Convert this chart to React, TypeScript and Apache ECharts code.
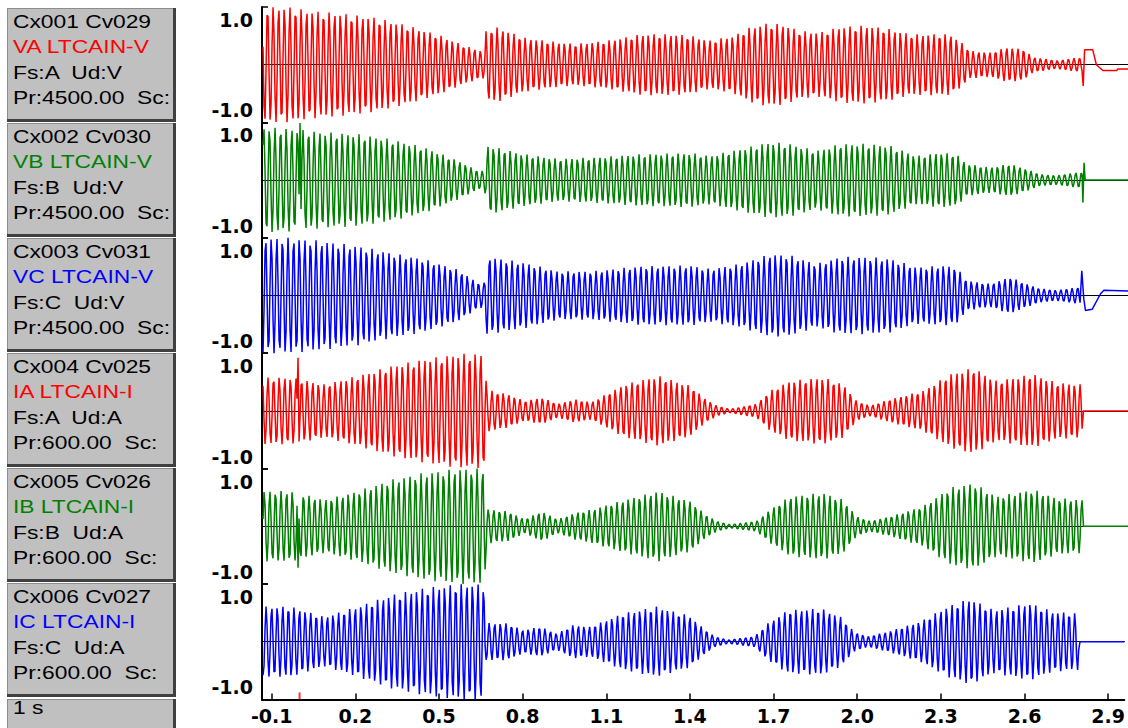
import React, { useEffect, useRef } from "react";
import * as echarts from "echarts";

// ---- Channel descriptions (left-hand info boxes) ----
const CHANNEL_HEADERS = ["Cx001 Cv029", "Cx002 Cv030", "Cx003 Cv031", "Cx004 Cv025", "Cx005 Cv026", "Cx006 Cv027"];
const CHANNEL_NAMES = ["VA LTCAIN-V", "VB LTCAIN-V", "VC LTCAIN-V", "IA LTCAIN-I", "IB LTCAIN-I", "IC LTCAIN-I"];
const CHANNEL_PHASES = ["Fs:A  Ud:V", "Fs:B  Ud:V", "Fs:C  Ud:V", "Fs:A  Ud:A", "Fs:B  Ud:A", "Fs:C  Ud:A"];
const CHANNEL_RATIOS = ["Pr:4500.00  Sc:", "Pr:4500.00  Sc:", "Pr:4500.00  Sc:", "Pr:600.00  Sc:", "Pr:600.00  Sc:", "Pr:600.00  Sc:"];
const CHANNEL_COLORS = ["#ff0000", "#008000", "#0000ff", "#ff0000", "#008000", "#0000ff"];
const TIME_BASE_LABEL = "1 s";

// ---- Axis ticks ----
const X_TICKS = [-0.1, 0.2, 0.5, 0.8, 1.1, 1.4, 1.7, 2.0, 2.3, 2.6, 2.9];
const Y_TICKS = [-1, 1];
const TRIGGER_MARK = [0];

// ---- Recording: per-channel peak envelope [time s, peak p.u.] ----
const VA_ENV = [[-0.131, 1.0], [-0.03, 1.0], [0.03, 0.94], [0.149, 0.89], [0.268, 0.82], [0.387, 0.68], [0.506, 0.5], [0.589, 0.33], [0.649, 0.24], [0.66, 0.24], [0.666, 0.62], [0.708, 0.65], [0.803, 0.47], [0.922, 0.39], [0.982, 0.36], [1.101, 0.42], [1.22, 0.53], [1.339, 0.53], [1.399, 0.5], [1.465, 0.42], [1.549, 0.5], [1.608, 0.65], [1.668, 0.72], [1.727, 0.7], [1.787, 0.59], [1.858, 0.56], [1.93, 0.66], [2.025, 0.68], [2.108, 0.62], [2.18, 0.53], [2.251, 0.53], [2.323, 0.53], [2.37, 0.36], [2.394, 0.24], [2.465, 0.21], [2.525, 0.3], [2.584, 0.27], [2.62, 0.13], [2.703, 0.07], [2.775, 0.12], [2.795, 0.12]];
const VB_ENV = [[-0.131, 0.92], [-0.03, 0.89], [0.089, 0.83], [0.208, 0.8], [0.327, 0.71], [0.446, 0.57], [0.565, 0.34], [0.637, 0.16], [0.66, 0.16], [0.672, 0.6], [0.803, 0.45], [0.922, 0.37], [1.041, 0.39], [1.22, 0.45], [1.399, 0.47], [1.465, 0.42], [1.573, 0.54], [1.68, 0.66], [1.751, 0.63], [1.846, 0.51], [1.93, 0.63], [2.025, 0.63], [2.108, 0.6], [2.203, 0.42], [2.287, 0.48], [2.346, 0.45], [2.382, 0.28], [2.465, 0.22], [2.537, 0.28], [2.596, 0.19], [2.644, 0.1], [2.703, 0.08], [2.775, 0.13], [2.795, 0.13]];
const VC_ENV = [[-0.131, 1.0], [-0.03, 1.0], [0.089, 0.94], [0.208, 0.86], [0.327, 0.74], [0.446, 0.63], [0.565, 0.45], [0.637, 0.22], [0.66, 0.22], [0.666, 0.68], [0.803, 0.57], [0.922, 0.42], [1.041, 0.42], [1.22, 0.51], [1.399, 0.52], [1.465, 0.46], [1.573, 0.55], [1.68, 0.72], [1.751, 0.7], [1.846, 0.55], [1.93, 0.67], [2.025, 0.67], [2.108, 0.64], [2.203, 0.49], [2.299, 0.52], [2.346, 0.49], [2.382, 0.26], [2.465, 0.2], [2.537, 0.32], [2.596, 0.2], [2.644, 0.12], [2.703, 0.09], [2.775, 0.14], [2.79, 0.14]];
const IA_ENV = [[-0.131, 0.58], [-0.03, 0.58], [0.089, 0.46], [0.208, 0.61], [0.327, 0.78], [0.446, 0.9], [0.565, 0.99], [0.66, 0.99], [0.668, 0.36], [0.684, 0.35], [0.744, 0.29], [0.803, 0.17], [0.863, 0.23], [0.922, 0.12], [0.982, 0.2], [1.041, 0.15], [1.16, 0.46], [1.28, 0.61], [1.399, 0.43], [1.442, 0.23], [1.489, 0.09], [1.537, 0.03], [1.632, 0.12], [1.68, 0.35], [1.751, 0.52], [1.87, 0.58], [1.942, 0.46], [1.989, 0.17], [2.037, 0.09], [2.108, 0.2], [2.227, 0.35], [2.323, 0.64], [2.406, 0.75], [2.489, 0.52], [2.62, 0.64], [2.703, 0.49], [2.797, 0.46]];
const IB_ENV = [[-0.131, 0.61], [-0.03, 0.61], [0.089, 0.46], [0.208, 0.61], [0.327, 0.81], [0.446, 0.93], [0.565, 1.0], [0.66, 1.0], [0.668, 0.3], [0.684, 0.29], [0.744, 0.26], [0.803, 0.12], [0.863, 0.26], [0.922, 0.12], [0.982, 0.23], [1.041, 0.29], [1.16, 0.46], [1.28, 0.61], [1.399, 0.43], [1.442, 0.23], [1.489, 0.09], [1.537, 0.03], [1.632, 0.09], [1.68, 0.29], [1.751, 0.52], [1.87, 0.58], [1.942, 0.46], [1.989, 0.17], [2.037, 0.09], [2.108, 0.17], [2.227, 0.35], [2.323, 0.67], [2.406, 0.75], [2.489, 0.52], [2.62, 0.64], [2.703, 0.49], [2.797, 0.46]];
const IC_ENV = [[-0.131, 0.61], [-0.03, 0.61], [0.089, 0.43], [0.208, 0.61], [0.327, 0.81], [0.446, 0.93], [0.565, 1.0], [0.66, 1.0], [0.668, 0.33], [0.684, 0.32], [0.744, 0.32], [0.803, 0.2], [0.863, 0.26], [0.922, 0.14], [0.982, 0.29], [1.041, 0.26], [1.16, 0.49], [1.28, 0.61], [1.399, 0.45], [1.442, 0.26], [1.489, 0.09], [1.537, 0.03], [1.632, 0.09], [1.68, 0.32], [1.751, 0.55], [1.87, 0.58], [1.942, 0.43], [1.989, 0.17], [2.037, 0.09], [2.108, 0.17], [2.227, 0.35], [2.323, 0.61], [2.406, 0.75], [2.489, 0.55], [2.62, 0.67], [2.703, 0.52], [2.797, 0.49]];

// Isolated switching spikes [time s, value p.u.]
const VA_SPIKES: number[][] = [];
const VB_SPIKES = [[0.0, 0.99]];
const VC_SPIKES: number[][] = [];
const IA_SPIKES = [[-0.006, 0.92]];
const IB_SPIKES = [[-0.006, -0.72]];
const IC_SPIKES: number[][] = [];

// Post-opening samples [time s, value p.u.]
const VA_TAIL = [[2.798, -0.37], [2.803, 0.26], [2.832, 0.26], [2.845, 0.0], [2.868, -0.1], [2.918, -0.1], [2.922, -0.075], [2.958, -0.075]];
const VB_TAIL = [[2.797, -0.39], [2.801, 0.3], [2.805, 0.0], [2.958, 0.0]];
const VC_TAIL = [[2.793, 0.43], [2.8, -0.05], [2.806, -0.26], [2.83, -0.24], [2.86, 0.03], [2.872, 0.09], [2.958, 0.08]];
const IA_TAIL = [[2.799, 0], [2.958, 0]];
const IB_TAIL = [[2.799, 0], [2.958, 0]];
const IC_TAIL = [[2.799, 0], [2.958, 0]];

const ENVELOPES = [VA_ENV, VB_ENV, VC_ENV, IA_ENV, IB_ENV, IC_ENV];
const SPIKES = [VA_SPIKES, VB_SPIKES, VC_SPIKES, IA_SPIKES, IB_SPIKES, IC_SPIKES];
const TAILS = [VA_TAIL, VB_TAIL, VC_TAIL, IA_TAIL, IB_TAIL, IC_TAIL];
const PHASE_DEG = [0, -120, 120, -30, -150, 90];

const SYSTEM_HZ = 50;
// one displayed sample per screen column (280 columns per second)
const SAMPLE_STEP = 1 / 280;
const T_MIN = -0.1347;
const T_MAX = 2.958;

// ---- Layout ----
const AXIS_LEFT = 262;
const PLOT_WIDTH = 866;
const PANEL_TOP = 7;
const PANEL_H = 115.4;
const BOX_TOP = 8;
const BOX_PITCH = 115;
const BOX_X = 7;
const BOX_W = 169;
const LABEL_FONT = "'Liberation Sans', Arial, sans-serif";
const AXIS_FONT = "'DejaVu Sans', sans-serif";

function envelopeAt(env: number[][], t: number): number {
  if (t <= env[0][0]) return env[0][1];
  for (let i = 1; i < env.length; i++) {
    if (t <= env[i][0]) {
      const [t0, a0] = env[i - 1];
      const [t1, a1] = env[i];
      return a0 + ((a1 - a0) * (t - t0)) / (t1 - t0);
    }
  }
  return env[env.length - 1][1];
}

function buildTrace(k: number): number[][] {
  const env = ENVELOPES[k];
  const start = env[0][0];
  const end = env[env.length - 1][0];
  const ph = (PHASE_DEG[k] * Math.PI) / 180;
  const pts: number[][] = [];
  const n = Math.floor((end - start) / SAMPLE_STEP);
  for (let i = 0; i <= n; i++) {
    const t = start + i * SAMPLE_STEP;
    pts.push([t, envelopeAt(env, t) * Math.sin(2 * Math.PI * SYSTEM_HZ * t + ph)]);
  }
  for (const [ts, v] of SPIKES[k]) {
    const idx = Math.round((ts - start) / SAMPLE_STEP);
    if (idx >= 0 && idx < pts.length) pts[idx] = [pts[idx][0], v];
  }
  for (const p of TAILS[k]) pts.push(p);
  return pts;
}

function infoBox(top: number, height: number): any[] {
  return [
    { type: "rect", shape: { x: BOX_X, y: top, width: BOX_W, height }, style: { fill: "#c0c0c0" } },
    { type: "rect", shape: { x: BOX_X, y: top, width: BOX_W, height: 1 }, style: { fill: "#8c8c8c" } },
    { type: "rect", shape: { x: BOX_X, y: top, width: 1, height }, style: { fill: "#8c8c8c" } },
    { type: "rect", shape: { x: BOX_X + BOX_W - 3, y: top, width: 3, height }, style: { fill: "#404040" }, z: 110 },
    { type: "rect", shape: { x: BOX_X, y: top + height - 3, width: BOX_W, height: 3 }, style: { fill: "#404040" }, z: 110 },
  ];
}

function boxText(text: string, y: number, color: string): any {
  return {
    type: "text",
    x: 13,
    y,
    scaleX: 1.2,
    z: 105,
    style: { text, fill: color, font: `19px ${LABEL_FONT}`, verticalAlign: "middle", align: "left" },
  };
}

export default function App() {
  const ref = useRef<HTMLDivElement>(null);

  useEffect(() => {
    if (!ref.current) return;
    const chart = echarts.init(ref.current, undefined, { renderer: "svg" });

    const grids: any[] = [];
    const xAxes: any[] = [];
    const yAxes: any[] = [];
    const series: any[] = [];

    CHANNEL_NAMES.forEach((name, i) => {
      grids.push({ left: AXIS_LEFT, top: PANEL_TOP + PANEL_H * i, width: PLOT_WIDTH, height: PANEL_H });
      xAxes.push({
        gridIndex: i,
        type: "value",
        min: T_MIN,
        max: T_MAX,
        position: "bottom",
        axisLine: { show: true, onZero: true, lineStyle: { color: "#000", width: 1.2 } },
        axisTick: { show: false },
        axisLabel: { show: false },
        splitLine: { show: false },
      });
      yAxes.push({
        gridIndex: i,
        type: "value",
        min: -1,
        max: 1,
        axisLine: { show: true, onZero: false, lineStyle: { color: "#000", width: 2 } },
        axisTick: { show: true, inside: true, length: 6, customValues: Y_TICKS, lineStyle: { color: "#000", width: 1.5 } },
        axisLabel: {
          show: true,
          customValues: Y_TICKS,
          margin: 9,
          formatter: (v: number) => (v > 0 ? `{t|${v.toFixed(1)}}` : `{b|${v.toFixed(1)}}`),
          rich: {
            t: { padding: [26, 0, 0, 0], fontFamily: AXIS_FONT, fontWeight: "bold", fontSize: 19, color: "#000" },
            b: { padding: [0, 0, 24, 0], fontFamily: AXIS_FONT, fontWeight: "bold", fontSize: 19, color: "#000" },
          },
        },
        splitLine: { show: false },
      });
      series.push({
        name,
        type: "line",
        xAxisIndex: i,
        yAxisIndex: i,
        data: buildTrace(i),
        symbol: "none",
        showSymbol: false,
        silent: true,
        lineStyle: { color: CHANNEL_COLORS[i], width: 1.5 },
        z: 3,
      });
    });

    // Labelled time axis under the last panel
    xAxes.push({
      gridIndex: CHANNEL_NAMES.length - 1,
      type: "value",
      min: T_MIN,
      max: T_MAX,
      position: "bottom",
      axisLine: { show: true, onZero: false, lineStyle: { color: "#000", width: 2 } },
      axisTick: { show: true, inside: true, length: 6, customValues: X_TICKS, lineStyle: { color: "#000", width: 1.5 } },
      axisLabel: {
        show: true,
        customValues: X_TICKS,
        formatter: (v: number) => v.toFixed(1),
        fontFamily: AXIS_FONT,
        fontWeight: "bold",
        fontSize: 19,
        color: "#000",
        margin: 7,
      },
      splitLine: { show: false },
    });

    // Trigger marker on the time axis
    series.push({
      type: "scatter",
      xAxisIndex: xAxes.length - 1,
      yAxisIndex: CHANNEL_NAMES.length - 1,
      data: TRIGGER_MARK.map((t) => [t, -1]),
      symbol: "rect",
      symbolSize: [2, 7],
      symbolOffset: [0, -3.5],
      itemStyle: { color: "#ff0000" },
      clip: false,
      silent: true,
      z: 6,
    });

    const graphics: any[] = [];
    CHANNEL_NAMES.forEach((name, k) => {
      const top = BOX_TOP + BOX_PITCH * k;
      graphics.push(...infoBox(top, 114));
      graphics.push(boxText(CHANNEL_HEADERS[k], top + 13, "#000"));
      graphics.push(boxText(name, top + 38.5, CHANNEL_COLORS[k]));
      graphics.push(boxText(CHANNEL_PHASES[k], top + 64, "#000"));
      graphics.push(boxText(CHANNEL_RATIOS[k], top + 89.5, "#000"));
    });
    const baseTop = BOX_TOP + BOX_PITCH * CHANNEL_NAMES.length + 1;
    graphics.push(...infoBox(baseTop, 40));
    graphics.push(boxText(TIME_BASE_LABEL, baseTop + 8, "#000"));

    chart.setOption({
      animation: false,
      backgroundColor: "#ffffff",
      grid: grids,
      xAxis: xAxes,
      yAxis: yAxes,
      series,
      graphic: { elements: graphics },
    });

    return () => chart.dispose();
  }, []);

  return (
    <div
      ref={ref}
      style={{ position: "fixed", left: 0, top: 0, width: 1128, height: 728, background: "#fff" }}
    />
  );
}
